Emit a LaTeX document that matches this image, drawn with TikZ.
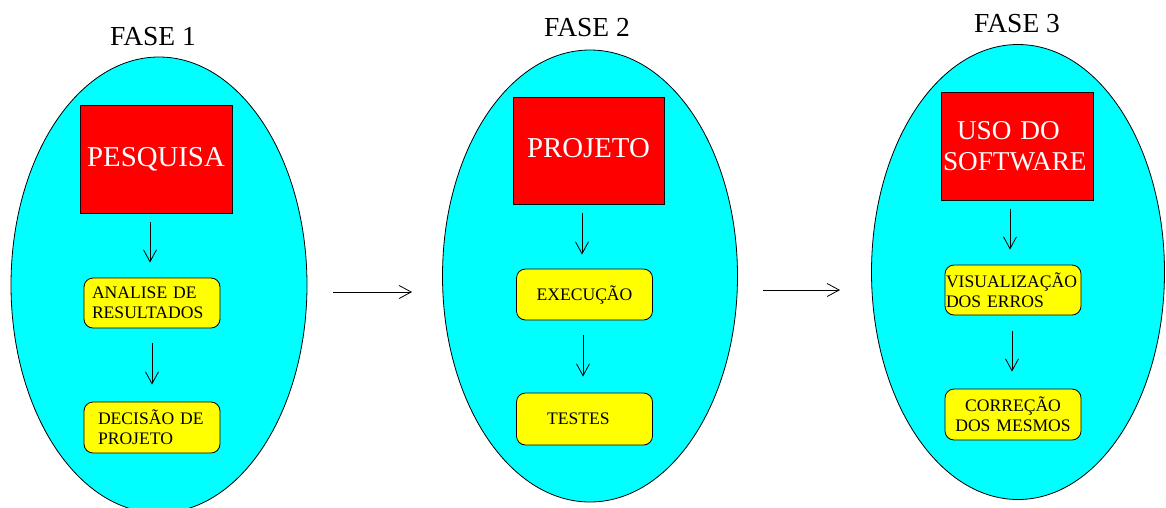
\documentclass[tikz,border=0pt]{standalone}
\usepackage{fontspec}
\setmainfont{Liberation Serif}
\usetikzlibrary{arrows.meta,calc,shapes.geometric}
\definecolor{ecyan}{HTML}{00FFFF}
\definecolor{bred}{HTML}{FF0000}
\definecolor{byellow}{HTML}{FFFF00}
\begin{document}
\begin{tikzpicture}[x=1pt,y=-1pt,
  phase/.style={ellipse, draw, fill=ecyan, line width=0.8pt, inner sep=0pt},
  redbox/.style={draw, fill=bred, text=white, line width=0.8pt, minimum width=152pt, minimum height=108pt, inner sep=2pt, font=\fontsize{28.8}{31}\selectfont},
  ybox/.style={draw, fill=byellow, rounded corners=9pt, line width=0.8pt, minimum width=136pt, minimum height=50pt, inner ysep=0pt, font=\fontsize{17.6}{20}\selectfont},
  title/.style={anchor=base, font=\fontsize{27.5}{30}\selectfont},
  arr/.style={-{Straight Barb[length=12pt,width=13pt]}, line width=0.8pt}]
\useasboundingbox (0,0) rectangle (1166,507);
\fill[white] (0,0) rectangle (1166,507);

% titles
\node[title] (t1) at (153,45) {FASE 1};
\node[title] (t2) at (587,36) {FASE 2};
\node[title] (t3) at (1017,32) {FASE 3};

% phases
\node[phase, minimum width=296pt, minimum height=456pt] (e1) at (159,285) {};
\node[phase, minimum width=295pt, minimum height=452pt] (e2) at (590,276) {};
\node[phase, minimum width=293pt, minimum height=455pt] (e3) at (1018,272) {};

% red boxes
\node[redbox] (r1) at (156,159) {PESQUISA};
\node[redbox, minimum width=151pt, minimum height=107pt] (r2) at (588.5,150.5) {\raisebox{5pt}{PROJETO}};
\node[redbox, font=\fontsize{27.2}{31}\selectfont, align=left, text width=148pt] (r3) at (1017,146) {\hspace*{14pt}USO DO\\SOFTWARE};

% yellow boxes
\node[ybox, inner xsep=8pt, text width=120pt, align=left] (y11) at (152,303) {ANALISE DE\\RESULTADOS};
\node[ybox, inner xsep=14pt, text width=108pt, align=left, minimum height=51pt] (y12) at (152,427.5) {DECISÃO DE\\PROJETO};
\node[ybox, inner xsep=8pt, text width=119pt, align=center, minimum height=51pt] (y21) at (584.5,294.5) {EXECUÇÃO};
\node[ybox, inner xsep=30pt, text width=75pt, align=left, minimum height=52pt] (y22) at (584.5,419) {TESTES};
\node[ybox, inner xsep=1pt, text width=134pt, align=left] (y31) at (1013,290) {VISUALIZAÇÃO\\DOS ERROS};
\node[ybox, inner xsep=4pt, text width=128pt, align=center, minimum height=51pt] (y32) at (1013,414.5) {CORREÇÃO\\DOS MESMOS};

% vertical arrows
\draw[arr] ($(r1.south)+(-6,9)$) -- ($(y11.north)+(-2,-15)$);
\draw[arr] ($(y11.south)+(0,15)$) -- ($(y12.north)+(0,-17)$);
\draw[arr] ($(r2.south)+(-6.5,9)$) -- ($(y21.north)+(-2.5,-14)$);
\draw[arr] ($(y21.south)+(-1.5,15)$) -- ($(y22.north)+(-1.5,-16)$);
\draw[arr] ($(r3.south)+(-7,9)$) -- ($(y31.north)+(-3,-15)$);
\draw[arr] ($(y31.south)+(-1,16)$) -- ($(y32.north)+(-1,-17)$);

% horizontal arrows between phases
\coordinate (h1s) at (333,292);
\coordinate (h1e) at (412,292);
\coordinate (h2s) at (763,290);
\coordinate (h2e) at (840,290);
\draw[arr] (h1s) -- (h1e);
\draw[arr] (h2s) -- (h2e);
\end{tikzpicture}
\end{document}
